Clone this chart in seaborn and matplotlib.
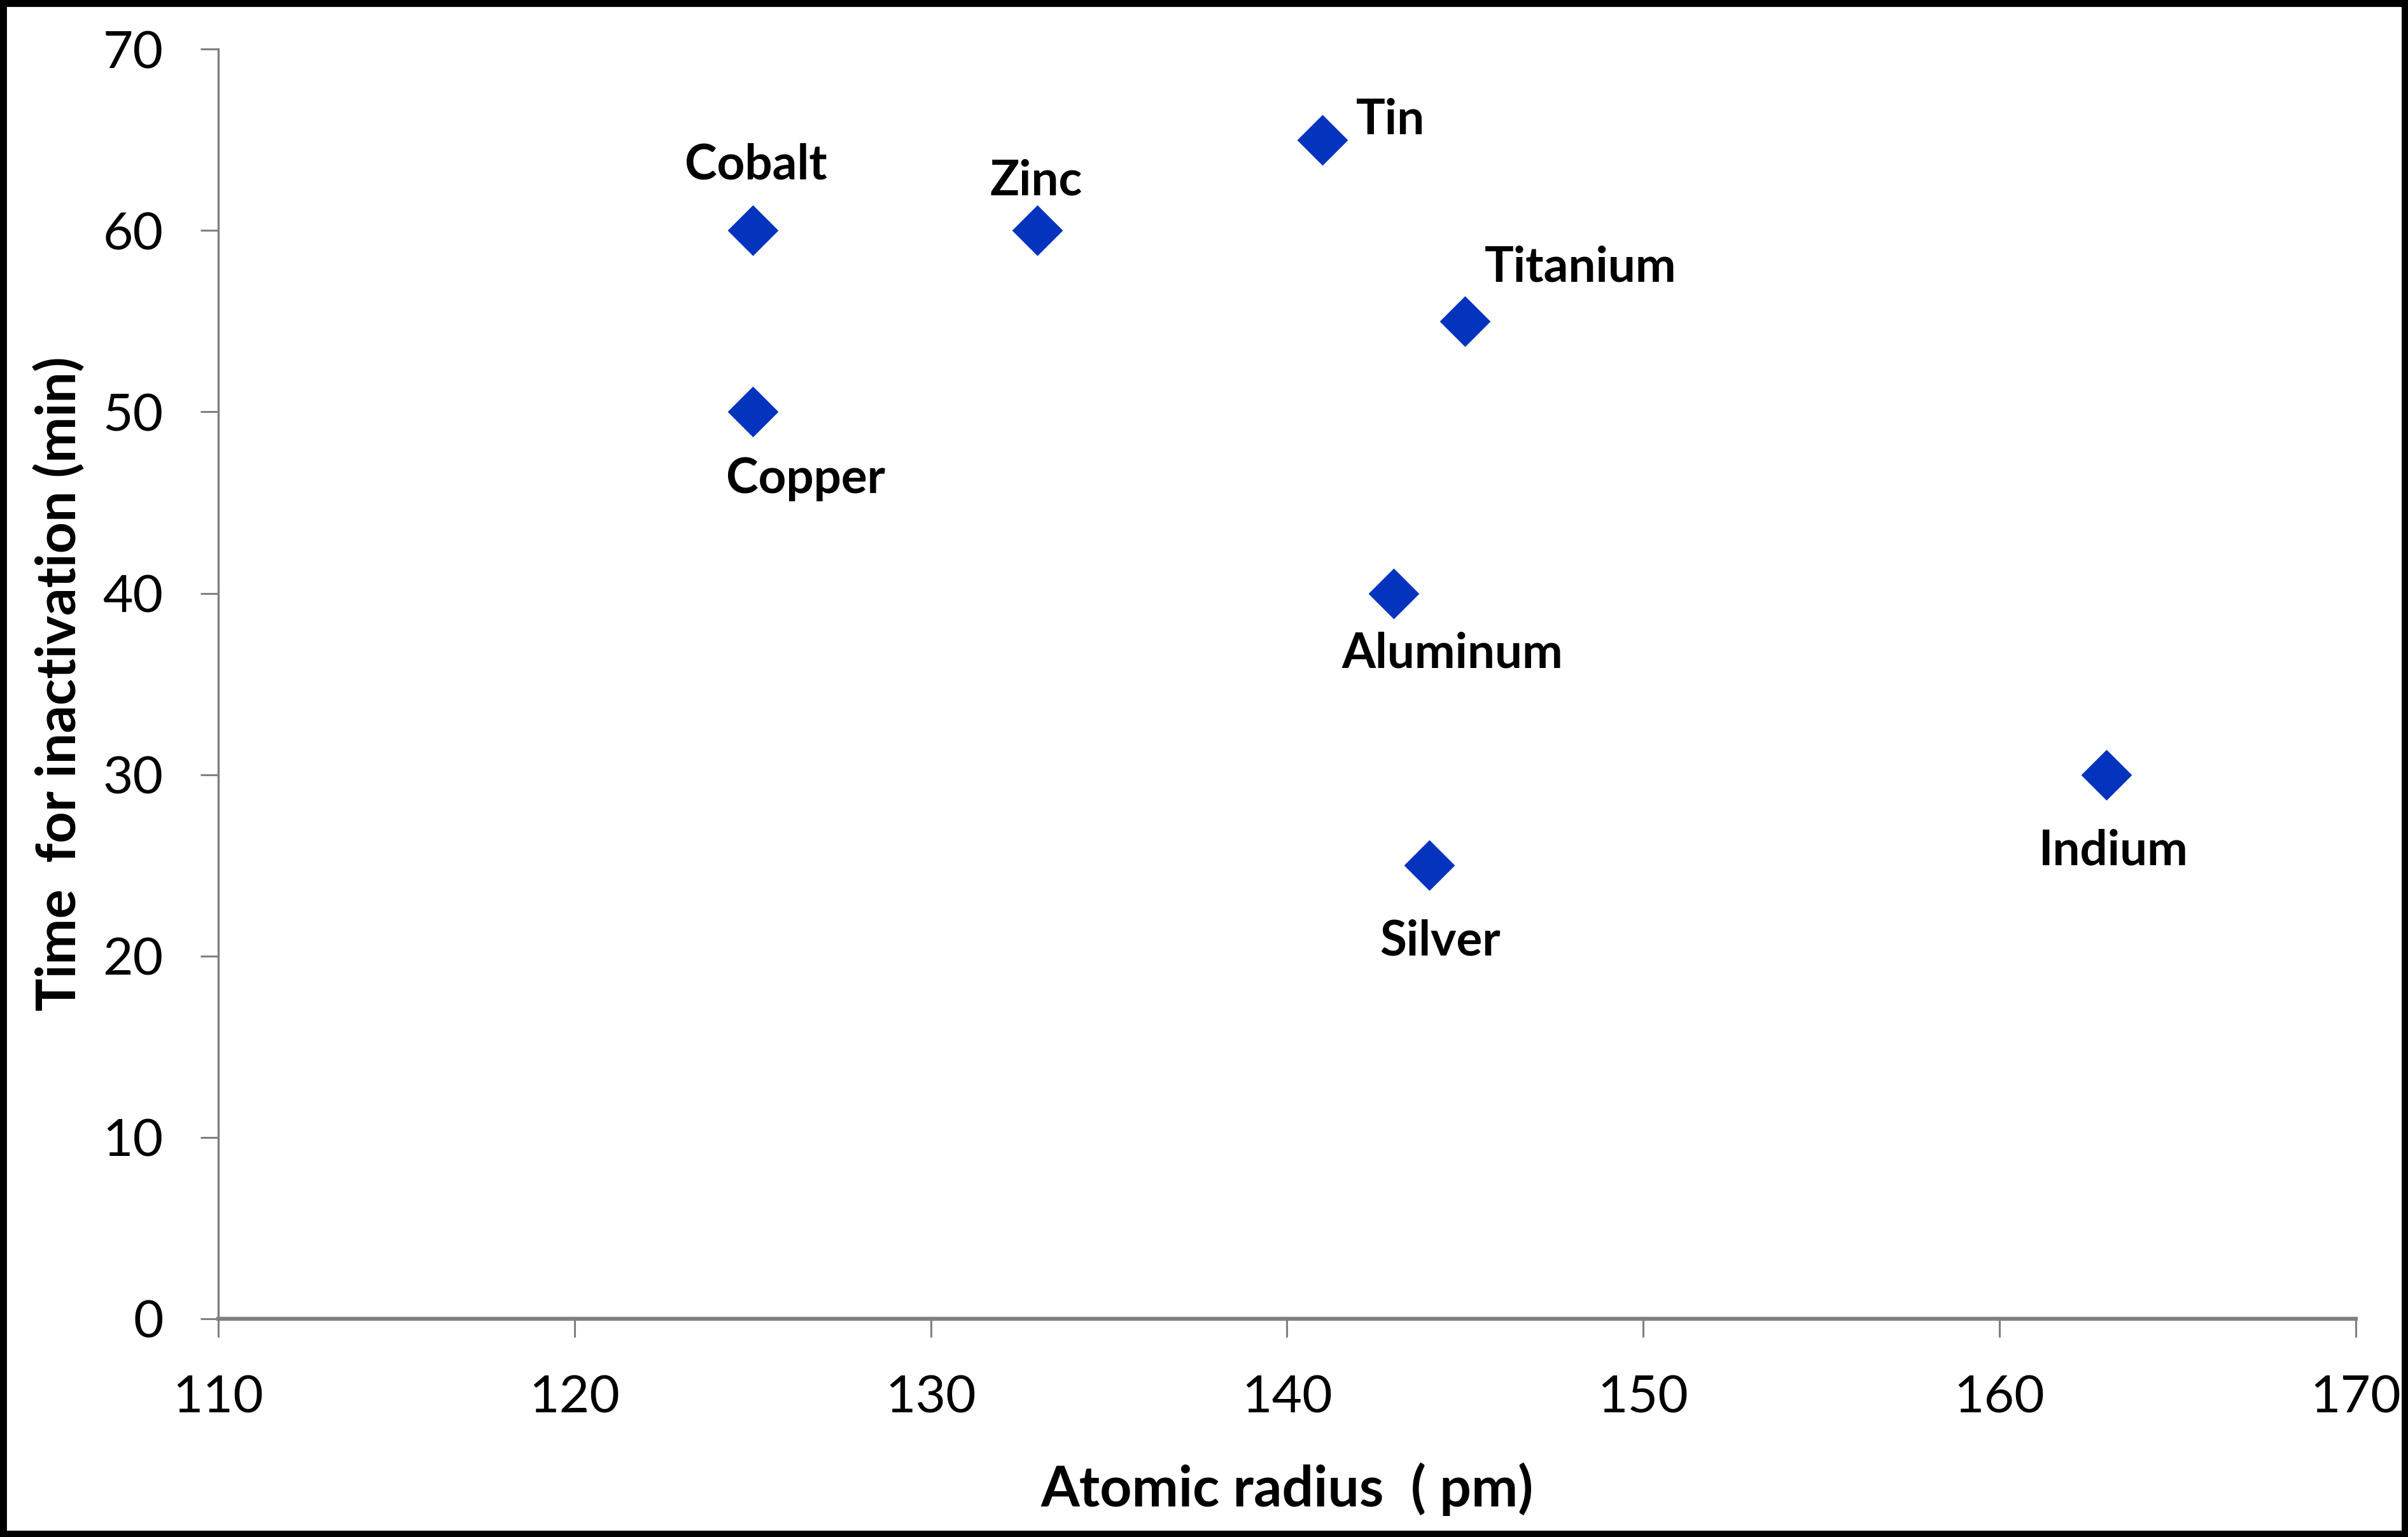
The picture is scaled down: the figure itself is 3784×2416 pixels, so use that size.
import matplotlib
matplotlib.use("Agg")
import matplotlib.pyplot as plt
from matplotlib.patches import Rectangle
import pandas
import seaborn

# Data
metals = ["Cobalt", "Copper", "Zinc", "Tin", "Titanium", "Aluminum", "Silver", "Indium"]
atomic_radius = [125, 125, 133, 141, 145, 143, 144, 163]
inactivation_time = [60, 50, 60, 65, 55, 40, 25, 30]

x_ticks = [110, 120, 130, 140, 150, 160, 170]
y_ticks = [0, 10, 20, 30, 40, 50, 60, 70]

# label offsets (points) and alignment for each metal
label_offsets = {
    "Cobalt": (4, 74, "center"),
    "Copper": (60, -76, "center"),
    "Zinc": (-2, 56, "center"),
    "Tin": (38, 22, "left"),
    "Titanium": (22, 61, "left"),
    "Aluminum": (66, -68, "center"),
    "Silver": (12, -86, "center"),
    "Indium": (8, -86, "center"),
}

data = pandas.DataFrame({"metal": metals, "radius": atomic_radius, "time": inactivation_time})

seaborn.set_style("ticks")
plt.rcParams["font.family"] = ["Lato", "DejaVu Sans"]

fig = plt.figure(figsize=(37.84, 24.16), dpi=100)
ax = fig.add_axes([0.0906, 0.142, 0.8877, 0.826])

seaborn.scatterplot(data=data, x="radius", y="time", marker="D", color="#0434BE",
                    s=1650, edgecolor="#0434BE", linewidth=0, ax=ax, legend=False, zorder=3)

for name, xv, yv in zip(metals, atomic_radius, inactivation_time):
    dx, dy, ha = label_offsets[name]
    ax.annotate(name, (xv, yv), xytext=(dx, dy), textcoords="offset points",
                ha=ha, va="center", fontsize=55, fontweight="bold", color="black")

ax.set_xlim(110, 170)
ax.set_ylim(0, 70)
ax.set_xticks(x_ticks)
ax.set_yticks(y_ticks)
ax.tick_params(axis="both", which="major", labelsize=59, colors="#808080", labelcolor="black",
               width=2.2, pad=42)
ax.tick_params(axis="x", length=21)
ax.tick_params(axis="y", length=20)

seaborn.despine(ax=ax)
ax.spines["left"].set_color("#808080")
ax.spines["left"].set_linewidth(2.5)
ax.spines["bottom"].set_color("#808080")
ax.spines["bottom"].set_linewidth(4.5)

ax.set_xlabel("Atomic radius  ( pm)", fontsize=63, fontweight="bold", color="black")
ax.set_ylabel("Time  for inactivation (min)", fontsize=62, fontweight="bold", color="black")
ax.xaxis.set_label_coords(0.5, -0.113)
ax.yaxis.set_label_coords(-0.062, 0.5)

# black frame round the picture
fig.patches.append(Rectangle((0, 0), 1, 1, transform=fig.transFigure, fill=False,
                             edgecolor="black", linewidth=15, zorder=10))

fig.savefig("out.png", dpi=100, facecolor="white")
